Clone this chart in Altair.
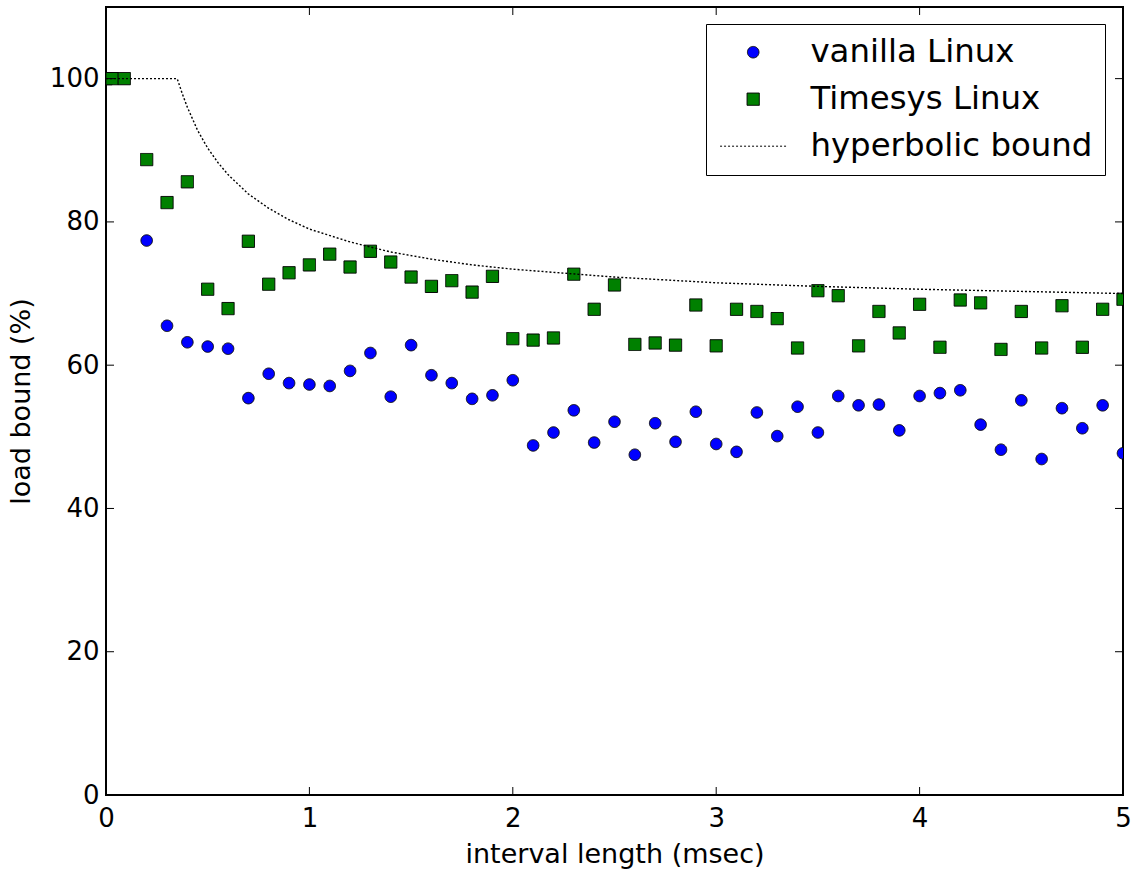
import altair as alt
import pandas as pd

# Series names (legend order)
SERIES = ["vanilla Linux", "Timesys Linux", "hyperbolic bound"]

# Interval lengths (msec) of the measured runs
interval_ms = [0.2, 0.3, 0.4, 0.5, 0.6, 0.7, 0.8, 0.9, 1.0,
               1.1, 1.2, 1.3, 1.4, 1.5, 1.6, 1.7, 1.8, 1.9, 2.0,
               2.1, 2.2, 2.3, 2.4, 2.5, 2.6, 2.7, 2.8, 2.9, 3.0,
               3.1, 3.2, 3.3, 3.4, 3.5, 3.6, 3.7, 3.8, 3.9, 4.0,
               4.1, 4.2, 4.3, 4.4, 4.5, 4.6, 4.7, 4.8, 4.9, 5.0]

# Load bound (%) for the stock kernel
vanilla = [77.4, 65.5, 63.2, 62.6, 62.3, 55.4, 58.8, 57.5, 57.3,
           57.1, 59.2, 61.7, 55.6, 62.8, 58.6, 57.5, 55.3, 55.8, 57.9,
           48.8, 50.6, 53.7, 49.2, 52.1, 47.5, 51.9, 49.3, 53.5, 49.0,
           47.9, 53.4, 50.1, 54.2, 50.6, 55.7, 54.4, 54.5, 50.9, 55.7,
           56.1, 56.5, 51.7, 48.2, 55.1, 46.9, 54.0, 51.2, 54.4, 47.7]

# Load bound (%) for the Timesys kernel (extra short intervals first)
timesys_x = [0.0, 0.03, 0.09] + interval_ms
timesys = [100.0, 100.0, 100.0,
           88.7, 82.7, 85.6, 70.6, 67.9, 77.3, 71.3, 72.9, 74.0,
           75.5, 73.7, 75.9, 74.4, 72.3, 71.0, 71.8, 70.2, 72.4, 63.7,
           63.5, 63.8, 72.7, 67.8, 71.2, 62.9, 63.1, 62.8, 68.4, 62.7,
           67.8, 67.5, 66.5, 62.4, 70.4, 69.7, 62.7, 67.5, 64.5, 68.5,
           62.5, 69.1, 68.7, 62.2, 67.5, 62.4, 68.3, 62.5, 67.8, 69.2]

# Hyperbolic bound curve
bound_x = [0.0, 0.35, 0.375, 0.4, 0.45, 0.5, 0.55, 0.6, 0.7, 0.8, 0.9, 1.0,
           1.2, 1.4, 1.6, 1.8, 2.0, 2.5, 3.0, 3.5, 4.0, 4.5, 5.0]
bound_y = [100.0, 100.0, 97.9, 96.0, 92.8, 90.3, 88.3, 86.6, 83.9, 81.9, 80.3, 79.0,
           77.2, 75.8, 74.8, 74.0, 73.4, 72.3, 71.5, 71.0, 70.6, 70.3, 70.0]

x_ticks = [0, 1, 2, 3, 4, 5]
y_ticks = [0, 20, 40, 60, 80, 100]

FONT = "DejaVu Sans"
W, H = 1017, 788

points = pd.concat([
    pd.DataFrame({"x": interval_ms, "y": vanilla, "series": SERIES[0]}),
    pd.DataFrame({"x": timesys_x, "y": timesys, "series": SERIES[1]}),
], ignore_index=True)
bound = pd.DataFrame({"x": bound_x, "y": bound_y})
xt = pd.DataFrame({"x": x_ticks})
yt = pd.DataFrame({"y": y_ticks})

x_scale = alt.Scale(domain=[0, 5], nice=False, zero=False)
y_scale = alt.Scale(domain=[0, 110], nice=False)
x_axis = alt.Axis(values=x_ticks, format="d", title="interval length (msec)",
                  labelPadding=10, titlePadding=10, labelFlush=False)
y_axis = alt.Axis(values=y_ticks, format="d", title="load bound (%)",
                  labelPadding=7, titlePadding=14, labelFlush=False)
X = alt.X("x:Q", scale=x_scale, axis=x_axis)
Y = alt.Y("y:Q", scale=y_scale, axis=y_axis)

# Legend line sample: a horizontal path reaching well past the nominal symbol box
LINE_SYMBOL = "M-5.1,0L5.1,0"

legend = alt.Legend(
    title=None, orient="none", legendX=600, legendY=17,
    labelFont=FONT, labelFontSize=32.4, labelColor="black", labelLimit=0,
    labelOffset=41, symbolOffset=19, rowPadding=14, padding=12,
    strokeColor="black", fillColor="white", cornerRadius=0,
    symbolStrokeWidth=1,
)

pts = alt.Chart(points).mark_point(
    filled=True, stroke="black", strokeWidth=1, opacity=1, clip=True
).encode(
    x=X, y=Y,
    color=alt.Color("series:N", legend=legend,
                    scale=alt.Scale(domain=SERIES, range=["#0000ff", "#008000", "#000000"])),
    shape=alt.Shape("series:N", legend=legend,
                    scale=alt.Scale(domain=SERIES, range=["circle", "square", LINE_SYMBOL])),
    size=alt.Size("series:N", legend=legend,
                  scale=alt.Scale(type="ordinal", domain=SERIES, range=[133, 150, 169])),
    strokeDash=alt.StrokeDash("series:N", legend=legend,
                              scale=alt.Scale(type="ordinal", domain=SERIES,
                                              range=[[1, 0], [1, 0], [2, 2]])),
)

line = alt.Chart(bound).mark_line(
    color="black", strokeWidth=1.4, strokeDash=[2, 2], clip=True
).encode(x=X, y=Y)

# Inward tick marks on all four sides of the frame
tick_style = dict(color="black", strokeWidth=1)
xt_bottom = alt.Chart(xt).mark_rule(**tick_style).encode(
    x=X, y=alt.value(H), y2=alt.value(H - 8))
xt_top = alt.Chart(xt).mark_rule(**tick_style).encode(
    x=X, y=alt.value(0), y2=alt.value(8))
yt_left = alt.Chart(yt).mark_rule(**tick_style).encode(
    y=Y, x=alt.value(0), x2=alt.value(8))
yt_right = alt.Chart(yt).mark_rule(**tick_style).encode(
    y=Y, x=alt.value(W), x2=alt.value(W - 8))

chart = alt.layer(pts, line, xt_bottom, xt_top, yt_left, yt_right).properties(
    width=W, height=H,
    autosize=alt.AutoSizeParams(type="none"),
    padding={"left": 106, "top": 7, "right": 13, "bottom": 74},
    background="white",
).configure_view(
    stroke="black", strokeWidth=2
).configure_axis(
    domain=False, ticks=False, grid=False,
    labelFont=FONT, labelFontSize=26, labelColor="black",
    titleFont=FONT, titleFontSize=27, titleColor="black", titleFontWeight="normal",
)

chart.save("out.html", embed_options={"renderer": "svg", "actions": False})
